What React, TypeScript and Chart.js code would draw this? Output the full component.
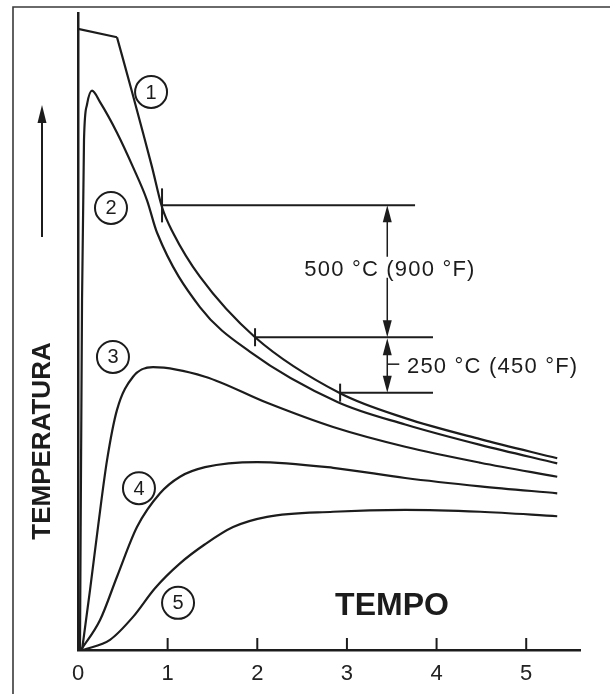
import { useEffect, useRef } from "react";
import { Chart, registerables } from "chart.js";

Chart.register(...registerables);

// ---- Data (x = tempo, y = temperatura, arbitrary units 0..100) ----
const tickLabels = ["0", "1", "2", "3", "4", "5"];

const curve1Plateau = [
  { x: 0, y: 97.5 },
  { x: 0.435, y: 96.2 },
];
const curve1 = [
  { x: 0.435, y: 96.2 },
  { x: 0.603, y: 87.6 },
  { x: 0.725, y: 81.2 },
  { x: 0.826, y: 75.8 },
  { x: 0.9375, y: 69.5 },
  { x: 1.06, y: 65.5 },
  { x: 1.36, y: 58.6 },
  { x: 1.975, y: 49.1 },
  { x: 2.924, y: 40.3 },
  { x: 3.65, y: 36.4 },
  { x: 4.487, y: 33.1 },
  { x: 5.346, y: 30.1 },
];
const curve2 = [
  { x: 0.022, y: 0 },
  { x: 0.045, y: 54.9 },
  { x: 0.067, y: 80.1 },
  { x: 0.1, y: 85.6 },
  { x: 0.156, y: 87.8 },
  { x: 0.246, y: 86.0 },
  { x: 0.435, y: 81.2 },
  { x: 0.614, y: 75.8 },
  { x: 0.77, y: 70.6 },
  { x: 0.882, y: 65.5 },
  { x: 1.362, y: 53.8 },
  { x: 1.92, y: 46.8 },
  { x: 2.9, y: 38.9 },
  { x: 3.65, y: 35.4 },
  { x: 4.487, y: 32.2 },
  { x: 5.346, y: 29.3 },
];
const curve3 = [
  { x: 0.045, y: 0 },
  { x: 0.134, y: 9.4 },
  { x: 0.223, y: 19.3 },
  { x: 0.324, y: 29.8 },
  { x: 0.435, y: 37.7 },
  { x: 0.614, y: 42.9 },
  { x: 0.837, y: 44.4 },
  { x: 1.417, y: 42.9 },
  { x: 2.109, y: 38.8 },
  { x: 2.846, y: 35.0 },
  { x: 3.65, y: 31.9 },
  { x: 4.487, y: 29.4 },
  { x: 5.346, y: 27.2 },
];
const curve4 = [
  { x: 0.033, y: 0 },
  { x: 0.246, y: 4.7 },
  { x: 0.435, y: 11.5 },
  { x: 0.658, y: 19.3 },
  { x: 0.915, y: 24.6 },
  { x: 1.138, y: 27.2 },
  { x: 1.417, y: 28.7 },
  { x: 1.998, y: 29.5 },
  { x: 2.846, y: 28.6 },
  { x: 3.65, y: 27.0 },
  { x: 4.487, y: 25.7 },
  { x: 5.346, y: 24.6 },
];
const curve5 = [
  { x: 0.056, y: 0 },
  { x: 0.357, y: 1.6 },
  { x: 0.614, y: 5.2 },
  { x: 0.859, y: 9.7 },
  { x: 1.138, y: 13.6 },
  { x: 1.417, y: 16.6 },
  { x: 1.73, y: 19.3 },
  { x: 2.109, y: 20.9 },
  { x: 2.846, y: 21.7 },
  { x: 3.65, y: 22.0 },
  { x: 4.487, y: 21.7 },
  { x: 5.346, y: 21.0 },
];

// curve number labels (circled)
const curveLabels = ["1", "2", "3", "4", "5"];
const curveLabelX = [0.815, 0.368, 0.39, 0.68, 1.116];
const curveLabelY = [87.6, 69.4, 46.0, 25.4, 7.4];

// annotation: marks on curve 1 and dimension lines
const markX = [0.9375, 1.975, 2.924];
const markY = [69.8, 49.1, 40.4];
const leaderEndX = [3.76, 3.96, 3.96];
const dimX = 3.45;
const dimTexts = ["500 °C (900 °F)", "250 °C (450 °F)"];
const dimTextX = [3.48, 3.67];
const dimTextY = [59.7, 44.4];

const INK = "#1c1c1c";
const FONT = "'Liberation Sans', Arial, Helvetica, sans-serif";

function arrowHead(ctx: CanvasRenderingContext2D, x: number, y: number, dir: number) {
  // dir = -1 pointing up, +1 pointing down; tip at (x,y)
  const L = 17;
  const W = 4.5;
  ctx.beginPath();
  ctx.moveTo(x, y);
  ctx.lineTo(x - W, y - dir * L);
  ctx.lineTo(x + W, y - dir * L);
  ctx.closePath();
  ctx.fill();
}

const decorPlugin = {
  id: "decor",
  beforeDraw(chart: any) {
    const ctx = chart.ctx as CanvasRenderingContext2D;
    ctx.save();
    ctx.fillStyle = "#ffffff";
    ctx.fillRect(0, 0, chart.width, chart.height);
    // frame
    ctx.strokeStyle = "#3a3a3a";
    ctx.lineWidth = 1.6;
    ctx.beginPath();
    ctx.moveTo(13, chart.height);
    ctx.lineTo(13, 7);
    ctx.lineTo(chart.width, 7);
    ctx.stroke();
    ctx.restore();
  },
  afterDraw(chart: any) {
    const ctx = chart.ctx as CanvasRenderingContext2D;
    const xs = chart.scales.x;
    const ys = chart.scales.y;
    const area = chart.chartArea;
    ctx.save();
    ctx.strokeStyle = INK;
    ctx.fillStyle = INK;

    // x ticks pointing up
    ctx.lineWidth = 2;
    for (let i = 1; i < tickLabels.length; i++) {
      const px = xs.getPixelForValue(i);
      ctx.beginPath();
      ctx.moveTo(px, area.bottom);
      ctx.lineTo(px, area.bottom - 12);
      ctx.stroke();
    }

    // circled curve labels
    for (let i = 0; i < curveLabels.length; i++) {
      const px = xs.getPixelForValue(curveLabelX[i]);
      const py = ys.getPixelForValue(curveLabelY[i]);
      ctx.beginPath();
      ctx.arc(px, py, 16, 0, Math.PI * 2);
      ctx.fillStyle = "#fff";
      ctx.fill();
      ctx.lineWidth = 2;
      ctx.stroke();
      ctx.fillStyle = INK;
      ctx.font = `20px ${FONT}`;
      ctx.textAlign = "center";
      ctx.textBaseline = "middle";
      ctx.fillText(curveLabels[i], px, py + 1);
    }

    // marks on curve 1 and leader lines
    ctx.lineWidth = 2;
    for (let i = 0; i < markX.length; i++) {
      const px = xs.getPixelForValue(markX[i]);
      const py = ys.getPixelForValue(markY[i]);
      const h = i === 0 ? 17 : 9;
      ctx.beginPath();
      ctx.moveTo(px, py - h);
      ctx.lineTo(px, py + h);
      ctx.stroke();
      ctx.beginPath();
      ctx.moveTo(px, py);
      ctx.lineTo(xs.getPixelForValue(leaderEndX[i]), py);
      ctx.stroke();
    }

    // dimension arrows
    const dx = xs.getPixelForValue(dimX);
    const y0 = ys.getPixelForValue(markY[0]);
    const y1 = ys.getPixelForValue(markY[1]);
    const y2 = ys.getPixelForValue(markY[2]);
    const t0 = ys.getPixelForValue(dimTextY[0]);
    ctx.lineWidth = 1.5;
    ctx.beginPath();
    ctx.moveTo(dx, y0 + 10);
    ctx.lineTo(dx, t0 - 13);
    ctx.moveTo(dx, t0 + 8);
    ctx.lineTo(dx, y1 - 10);
    ctx.moveTo(dx, y1 + 10);
    ctx.lineTo(dx, y2 - 10);
    ctx.stroke();
    arrowHead(ctx, dx, y0, -1);
    arrowHead(ctx, dx, y1, 1);
    arrowHead(ctx, dx, y1 + 1, -1);
    arrowHead(ctx, dx, y2, 1);
    // leader dash for second label
    const t1 = ys.getPixelForValue(dimTextY[1]);
    ctx.beginPath();
    ctx.moveTo(dx, t1 - 3);
    ctx.lineTo(dx + 12, t1 - 3);
    ctx.stroke();

    // dimension texts
    ctx.font = `22px ${FONT}`;
    (ctx as any).letterSpacing = "1.2px";
    ctx.textBaseline = "middle";
    ctx.textAlign = "center";
    ctx.fillText(dimTexts[0], xs.getPixelForValue(dimTextX[0]), t0);
    ctx.textAlign = "left";
    ctx.fillText(dimTexts[1], xs.getPixelForValue(dimTextX[1]), t1);
    (ctx as any).letterSpacing = "0px";

    // axis titles
    ctx.font = `bold 32px ${FONT}`;
    ctx.textAlign = "center";
    ctx.fillText("TEMPO", 392, 606);

    ctx.save();
    ctx.translate(43, 441);
    ctx.rotate(-Math.PI / 2);
    ctx.font = `bold 26px ${FONT}`;
    ctx.fillText("TEMPERATURA", 0, 0);
    ctx.restore();

    // upward arrow beside y title
    ctx.lineWidth = 2;
    ctx.beginPath();
    ctx.moveTo(42, 237);
    ctx.lineTo(42, 118);
    ctx.stroke();
    ctx.beginPath();
    ctx.moveTo(42, 105);
    ctx.lineTo(37.5, 123);
    ctx.lineTo(46.5, 123);
    ctx.closePath();
    ctx.fill();

    ctx.restore();
  },
};

function lineDs(data: { x: number; y: number }[], smooth: boolean) {
  return {
    data,
    showLine: true,
    pointRadius: 0,
    borderColor: INK,
    borderWidth: 2.2,
    fill: false,
    ...(smooth ? { cubicInterpolationMode: "monotone" as const } : { tension: 0 }),
  };
}

export default function App() {
  const ref = useRef<HTMLCanvasElement | null>(null);
  useEffect(() => {
    if (!ref.current) return;
    const chart = new Chart(ref.current, {
      type: "scatter",
      data: {
        datasets: [
          lineDs(curve1Plateau, false),
          lineDs(curve1, true),
          lineDs(curve2, true),
          lineDs(curve3, true),
          lineDs(curve4, true),
          lineDs(curve5, true),
        ] as any,
      },
      options: {
        responsive: false,
        animation: false,
        events: [],
        layout: { padding: { left: 78, right: 30, top: 13, bottom: 0 } },
        plugins: { legend: { display: false }, tooltip: { enabled: false } },
        scales: {
          x: {
            type: "linear",
            min: 0,
            max: 5.6,
            grid: { display: false, drawTicks: false },
            border: { display: true, color: INK, width: 2.5 },
            afterBuildTicks: (s: any) => {
              s.ticks = tickLabels.map((_, i) => ({ value: i }));
            },
            ticks: {
              autoSkip: false,
              maxRotation: 0,
              padding: 11,
              color: "#222",
              font: { family: FONT, size: 22 },
              callback: (v: any) => (tickLabels[v] !== undefined ? tickLabels[v] : ""),
            },
            afterFit: (s: any) => {
              s.height = 44;
            },
          },
          y: {
            type: "linear",
            min: 0,
            max: 100,
            grid: { display: false, drawTicks: false },
            border: { display: true, color: INK, width: 2.5 },
            ticks: { display: false },
            afterFit: (s: any) => {
              s.width = 0;
            },
          },
        },
      },
      plugins: [decorPlugin],
    });
    return () => chart.destroy();
  }, []);
  return (
    <div style={{ position: "fixed", left: 0, top: 0, width: 610, height: 694, background: "#fff" }}>
      <canvas ref={ref} width={610} height={694} style={{ display: "block" }} />
    </div>
  );
}
